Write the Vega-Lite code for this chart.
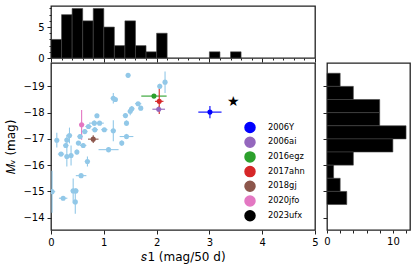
{
  "$schema": "https://vega.github.io/schema/vega-lite/v6.json",
  "padding": {"left": 4, "top": 2, "right": 5, "bottom": 5},
  "background": "white",
  "datasets": {
    "pts": [
      {"sn":"sample","x":1.46,"xlo":1.42,"xhi":1.50,"y":-19.42,"ylo":-19.50,"yhi":-19.34},
      {"sn":"sample","x":2.16,"xlo":2.12,"xhi":2.20,"y":-19.16,"ylo":-19.57,"yhi":-18.75},
      {"sn":"sample","x":2.06,"xlo":2.03,"xhi":2.09,"y":-19.0,"ylo":-19.1,"yhi":-18.9},
      {"sn":"sample","x":1.18,"xlo":1.13,"xhi":1.23,"y":-18.55,"ylo":-18.75,"yhi":-18.35},
      {"sn":"sample","x":1.22,"xlo":1.19,"xhi":1.25,"y":-18.5,"ylo":-18.58,"yhi":-18.42},
      {"sn":"sample","x":1.65,"xlo":1.59,"xhi":1.71,"y":-18.34,"ylo":-18.39,"yhi":-18.29},
      {"sn":"sample","x":1.70,"xlo":1.66,"xhi":1.74,"y":-18.17,"ylo":-18.25,"yhi":-18.09},
      {"sn":"sample","x":1.53,"xlo":1.48,"xhi":1.58,"y":-18.15,"ylo":-18.25,"yhi":-18.05},
      {"sn":"sample","x":1.50,"xlo":1.46,"xhi":1.54,"y":-18.05,"ylo":-18.2,"yhi":-17.9},
      {"sn":"sample","x":1.41,"xlo":1.36,"xhi":1.46,"y":-17.89,"ylo":-17.99,"yhi":-17.79},
      {"sn":"sample","x":1.43,"xlo":1.39,"xhi":1.47,"y":-17.6,"ylo":-17.7,"yhi":-17.5},
      {"sn":"sample","x":1.43,"xlo":1.30,"xhi":1.56,"y":-17.09,"ylo":-17.19,"yhi":-16.99},
      {"sn":"sample","x":1.34,"xlo":1.31,"xhi":1.37,"y":-16.84,"ylo":-16.94,"yhi":-16.74},
      {"sn":"sample","x":1.18,"xlo":1.13,"xhi":1.23,"y":-17.31,"ylo":-17.71,"yhi":-16.91},
      {"sn":"sample","x":1.09,"xlo":0.90,"xhi":1.28,"y":-16.59,"ylo":-16.69,"yhi":-16.49},
      {"sn":"sample","x":1.01,"xlo":0.95,"xhi":1.07,"y":-17.35,"ylo":-17.4,"yhi":-17.3},
      {"sn":"sample","x":0.87,"xlo":0.83,"xhi":0.91,"y":-17.88,"ylo":-17.96,"yhi":-17.8},
      {"sn":"sample","x":0.82,"xlo":0.72,"xhi":0.92,"y":-17.6,"ylo":-17.7,"yhi":-17.5},
      {"sn":"sample","x":0.92,"xlo":0.84,"xhi":1.00,"y":-17.6,"ylo":-17.65,"yhi":-17.55},
      {"sn":"sample","x":0.83,"xlo":0.77,"xhi":0.89,"y":-17.35,"ylo":-17.45,"yhi":-17.25},
      {"sn":"sample","x":0.71,"xlo":0.65,"xhi":0.77,"y":-17.47,"ylo":-17.52,"yhi":-17.42},
      {"sn":"sample","x":0.64,"xlo":0.59,"xhi":0.69,"y":-17.28,"ylo":-17.38,"yhi":-17.18},
      {"sn":"sample","x":0.55,"xlo":0.50,"xhi":0.60,"y":-17.09,"ylo":-17.19,"yhi":-16.99},
      {"sn":"sample","x":0.61,"xlo":0.55,"xhi":0.67,"y":-16.75,"ylo":-16.83,"yhi":-16.67},
      {"sn":"sample","x":0.52,"xlo":0.47,"xhi":0.57,"y":-16.84,"ylo":-16.89,"yhi":-16.79},
      {"sn":"sample","x":0.49,"xlo":0.46,"xhi":0.52,"y":-16.5,"ylo":-16.6,"yhi":-16.4},
      {"sn":"sample","x":0.35,"xlo":0.30,"xhi":0.40,"y":-17.13,"ylo":-17.43,"yhi":-16.83},
      {"sn":"sample","x":0.30,"xlo":0.26,"xhi":0.34,"y":-16.96,"ylo":-17.16,"yhi":-16.76},
      {"sn":"sample","x":0.28,"xlo":0.23,"xhi":0.33,"y":-16.75,"ylo":-16.85,"yhi":-16.65},
      {"sn":"sample","x":0.30,"xlo":0.26,"xhi":0.34,"y":-16.33,"ylo":-16.71,"yhi":-15.95},
      {"sn":"sample","x":0.38,"xlo":0.34,"xhi":0.42,"y":-16.37,"ylo":-16.75,"yhi":-15.99},
      {"sn":"sample","x":0.19,"xlo":0.13,"xhi":0.25,"y":-16.42,"ylo":-16.47,"yhi":-16.37},
      {"sn":"sample","x":0.11,"xlo":0.08,"xhi":0.14,"y":-16.95,"ylo":-17.23,"yhi":-16.67},
      {"sn":"sample","x":0.69,"xlo":0.64,"xhi":0.74,"y":-16.14,"ylo":-16.33,"yhi":-15.95},
      {"sn":"sample","x":0.57,"xlo":0.47,"xhi":0.67,"y":-15.6,"ylo":-15.65,"yhi":-15.55},
      {"sn":"sample","x":0.02,"xlo":-0.04,"xhi":0.08,"y":-14.99,"ylo":-15.79,"yhi":-14.19},
      {"sn":"sample","x":0.23,"xlo":0.15,"xhi":0.31,"y":-14.74,"ylo":-14.79,"yhi":-14.69},
      {"sn":"sample","x":0.42,"xlo":0.37,"xhi":0.47,"y":-15.02,"ylo":-15.49,"yhi":-14.55},
      {"sn":"sample","x":0.47,"xlo":0.42,"xhi":0.52,"y":-15.02,"ylo":-15.12,"yhi":-14.92},
      {"sn":"sample","x":0.46,"xlo":0.42,"xhi":0.50,"y":-14.6,"ylo":-15.05,"yhi":-14.15},
      {"sn":"2006Y","x":3.01,"xlo":2.79,"xhi":3.23,"y":-18.02,"ylo":-18.25,"yhi":-17.79},
      {"sn":"2006ai","x":2.04,"xlo":1.92,"xhi":2.16,"y":-18.13,"ylo":-18.23,"yhi":-18.03},
      {"sn":"2016egz","x":1.95,"xlo":1.71,"xhi":2.19,"y":-18.63,"ylo":-18.68,"yhi":-18.58},
      {"sn":"2017ahn","x":2.05,"xlo":1.97,"xhi":2.13,"y":-18.43,"ylo":-18.91,"yhi":-17.95},
      {"sn":"2018gj","x":0.80,"xlo":0.70,"xhi":0.90,"y":-16.99,"ylo":-17.14,"yhi":-16.84},
      {"sn":"2020jfo","x":0.58,"xlo":0.53,"xhi":0.63,"y":-17.54,"ylo":-18.1,"yhi":-16.97},
      {"sn":"2023ufx","x":3.45,"xlo":null,"xhi":null,"y":-18.4,"ylo":null,"yhi":null}
    ],
    "hx": [
      {"x0":0.0,"x1":0.2,"n":3},{"x0":0.2,"x1":0.4,"n":7},{"x0":0.4,"x1":0.6,"n":8},
      {"x0":0.6,"x1":0.8,"n":6},{"x0":0.8,"x1":1.0,"n":8},{"x0":1.0,"x1":1.2,"n":5},
      {"x0":1.2,"x1":1.4,"n":2},{"x0":1.4,"x1":1.6,"n":6},{"x0":1.6,"x1":1.8,"n":2},
      {"x0":1.8,"x1":2.0,"n":1},{"x0":2.0,"x1":2.2,"n":4},{"x0":3.0,"x1":3.2,"n":1},
      {"x0":3.4,"x1":3.6,"n":1}
    ],
    "hy": [
      {"m0":-19.5,"m1":-19.0,"n":2},{"m0":-19.0,"m1":-18.5,"n":4},{"m0":-18.5,"m1":-18.0,"n":8},
      {"m0":-18.0,"m1":-17.5,"n":8},{"m0":-17.5,"m1":-17.0,"n":12},{"m0":-17.0,"m1":-16.5,"n":10},
      {"m0":-16.5,"m1":-16.0,"n":4},{"m0":-16.0,"m1":-15.5,"n":1},{"m0":-15.5,"m1":-15.0,"n":2},
      {"m0":-15.0,"m1":-14.5,"n":3}
    ]
  },
  "spacing": 5,
  "bounds": "flush",
  "vconcat": [
    {
      "width": 264,
      "height": 52,
      "data": {"name": "hx"},
      "mark": {"type": "rect", "fill": "black", "stroke": "#444444", "strokeWidth": 0.6},
      "encoding": {
        "x": {"field": "x0", "type": "quantitative",
          "scale": {"domain": [0, 5], "nice": false, "zero": false},
          "axis": {"title": null, "labels": false,
            "values": [0,0.2,0.4,0.6,0.8,1,1.2,1.4,1.6,1.8,2,2.2,2.4,2.6,2.8,3,3.2,3.4,3.6,3.8,4,4.2,4.4,4.6,4.8,5],
            "tickSize": {"condition": {"test": "abs(datum.value - round(datum.value)) < 0.01", "value": 4}, "value": 2}}},
        "x2": {"field": "x1"},
        "y": {"field": "n", "type": "quantitative",
          "scale": {"domain": [0, 8.4], "nice": false},
          "axis": {"title": null, "values": [0,1,2,3,4,5,6,7,8],
            "labelExpr": "datum.value == 0 || datum.value == 5 ? format(datum.value, 'd') : ''",
            "tickSize": {"condition": {"test": "datum.value == 0 || datum.value == 5", "value": 4}, "value": 2}}},
        "y2": {"datum": 0}
      }
    },
    {
      "spacing": 12,
      "bounds": "flush",
      "hconcat": [
        {
          "width": 264,
          "height": 167,
          "data": {"name": "pts"},
          "encoding": {
            "color": {"field": "sn", "type": "nominal",
              "scale": {"domain": ["sample","2006Y","2006ai","2016egz","2017ahn","2018gj","2020jfo","2023ufx"],
                        "range": ["#92c8e8","#0000ff","#9467bd","#2ca02c","#d62728","#8c564b","#e377c2","#000000"]},
              "legend": {"values": ["2006Y","2006ai","2016egz","2017ahn","2018gj","2020jfo","2023ufx"],
                "title": null, "orient": "none", "legendX": 193, "legendY": 115.5,
                "padding": 0, "symbolSize": 100, "labelFontSize": 8.3, "labelOffset": 12,
                "rowPadding": -1.3, "labelFont": "DejaVu Sans", "labelColor": "black"}
            }
          },
          "layer": [
            {
              "transform": [{"filter": "datum.xlo != null"}],
              "mark": {"type": "rule", "strokeWidth": 1.1, "clip": true},
              "encoding": {
                "x": {"field": "xlo", "type": "quantitative",
                  "scale": {"domain": [0, 5], "nice": false, "zero": false},
                  "axis": {"title": "𝑠1 (mag/50 d)", "titleFontSize": 12, "titlePadding": 4, "tickSize": 4}},
                "x2": {"field": "xhi"},
                "y": {"field": "y", "type": "quantitative",
                  "scale": {"domain": [-19.89, -13.53], "nice": false, "zero": false, "reverse": true},
                  "axis": {"title": "𝑀ᵥ (mag)", "titleFontSize": 12, "titlePadding": 5, "tickSize": 4}}
              }
            },
            {
              "transform": [{"filter": "datum.xlo != null"}],
              "mark": {"type": "rule", "strokeWidth": 1.1, "clip": true},
              "encoding": {
                "x": {"field": "x", "type": "quantitative"},
                "y": {"field": "ylo", "type": "quantitative"},
                "y2": {"field": "yhi"}
              }
            },
            {
              "transform": [{"filter": "datum.xlo != null"}],
              "mark": {"type": "point", "filled": true, "opacity": 1, "clip": true, "size": 26},
              "encoding": {
                "x": {"field": "x", "type": "quantitative"},
                "y": {"field": "y", "type": "quantitative"}
              }
            },
            {
              "transform": [{"filter": "datum.xlo == null"}],
              "mark": {"type": "text", "text": "★", "fontSize": 14, "font": "DejaVu Sans", "fill": "black", "baseline": "middle", "align": "center", "clip": true},
              "encoding": {
                "x": {"field": "x", "type": "quantitative"},
                "y": {"field": "y", "type": "quantitative"},
                "color": {"value": "black"}
              }
            }
          ]
        },
        {
          "width": 83,
          "height": 167,
          "data": {"name": "hy"},
          "mark": {"type": "rect", "fill": "black", "stroke": "#444444", "strokeWidth": 0.6},
          "encoding": {
            "y": {"field": "m0", "type": "quantitative",
              "scale": {"domain": [-19.89, -13.53], "nice": false, "zero": false, "reverse": true},
              "axis": {"title": null, "labels": false, "tickSize": 4}},
            "y2": {"field": "m1"},
            "x": {"field": "n", "type": "quantitative",
              "scale": {"domain": [0, 12.6], "nice": false},
              "axis": {"title": null, "values": [0,2,4,6,8,10,12], "tickSize": 3,
                "labelExpr": "datum.value == 0 || datum.value == 10 ? format(datum.value, 'd') : ''"}},
            "x2": {"datum": 0}
          }
        }
      ]
    }
  ],
  "config": {
    "view": {"stroke": "#222222", "strokeWidth": 1.3},
    "font": "DejaVu Sans",
    "axis": {"domain": false, "grid": false, "labelFont": "DejaVu Sans", "labelFontSize": 10,
      "labelColor": "black", "tickColor": "#222222", "tickWidth": 1, "labelPadding": 3,
      "titleFont": "DejaVu Sans", "titleFontWeight": "normal", "titleColor": "black",
      "labelOverlap": false, "labelFlush": false, "labelBound": false}
  }
}
